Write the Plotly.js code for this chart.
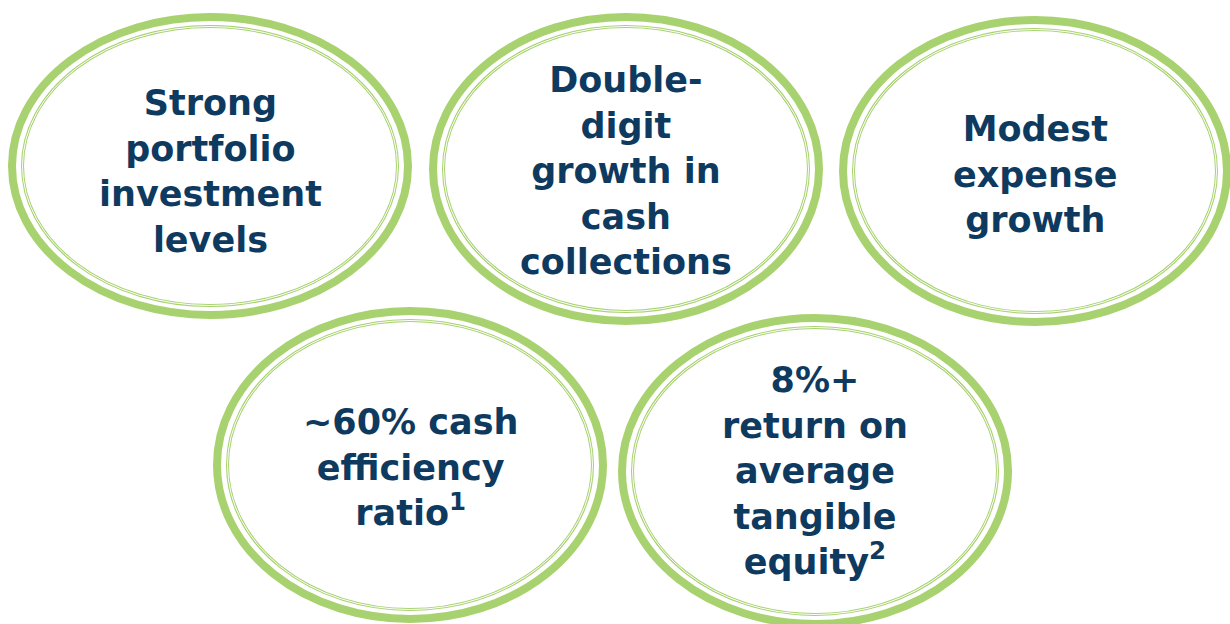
<!DOCTYPE html>
<html>
<head>
<meta charset="utf-8">
<script src="https://cdn.plot.ly/plotly-3.0.1.min.js"></script>
<style>html,body{margin:0;padding:0;background:#fff;}#chart{width:1230px;height:624px;}</style>
</head>
<body>
<div id="chart"></div>
<script>
// Content
const goals = [
  "Strong<br>portfolio<br>investment<br>levels",
  "Double-<br>digit<br>growth in<br>cash<br>collections",
  "Modest<br>expense<br>growth",
  "~60% cash<br>efficiency<br>ratio<sup>1</sup>",
  "8%+<br>return on<br>average<br>tangible<br>equity<sup>2</sup>"
];

// Layout geometry (pixel space) kept separately from content
const ovalCx = [210, 626, 1035, 410, 815];
const ovalCy = [166, 169, 171, 465, 471];
const ovalRx = [202, 197, 196, 197, 197];
const ovalRy = [153, 156, 155, 158, 157];
const textDy = [5, 2, 3, 2, 0];

const GREEN = '#a8d26f';
const NAVY = '#0f3a5f';
const shapes = [];
const annotations = [];
goals.forEach((txt, i) => {
  const cx = ovalCx[i], cy = ovalCy[i];
  const rxo = ovalRx[i] - 4, ryo = ovalRy[i] - 4;
  shapes.push({type:'circle', xref:'x', yref:'y', x0:cx-rxo, x1:cx+rxo, y0:cy-ryo, y1:cy+ryo,
    line:{color:GREEN, width:8}, fillcolor:'rgba(0,0,0,0)'});
  const rxi = ovalRx[i] - 14.5, ryi = ovalRy[i] - 13.5;
  shapes.push({type:'circle', xref:'x', yref:'y', x0:cx-rxi, x1:cx+rxi, y0:cy-ryi, y1:cy+ryi,
    line:{color:GREEN, width:3}, fillcolor:'rgba(0,0,0,0)'});
  shapes.push({type:'circle', xref:'x', yref:'y', x0:cx-rxi, x1:cx+rxi, y0:cy-ryi, y1:cy+ryi,
    line:{color:'#ffffff', width:1}, fillcolor:'rgba(0,0,0,0)'});
  annotations.push({x:cx, y:cy, xref:'x', yref:'y', yshift:-textDy[i], text:txt, showarrow:false,
    xanchor:'center', yanchor:'middle', align:'center',
    font:{family:'"DejaVu Sans", sans-serif', size:35, color:NAVY, weight:700}});
});

const layout = {
  width:1230, height:624,
  margin:{l:0,r:0,t:0,b:0},
  paper_bgcolor:'#ffffff', plot_bgcolor:'#ffffff',
  xaxis:{range:[0,1230], visible:false, fixedrange:true},
  yaxis:{range:[624,0], visible:false, fixedrange:true},
  showlegend:false,
  shapes:shapes,
  annotations:annotations
};
Plotly.newPlot('chart', [], layout, {staticPlot:true, displayModeBar:false});
</script>
</body>
</html>
